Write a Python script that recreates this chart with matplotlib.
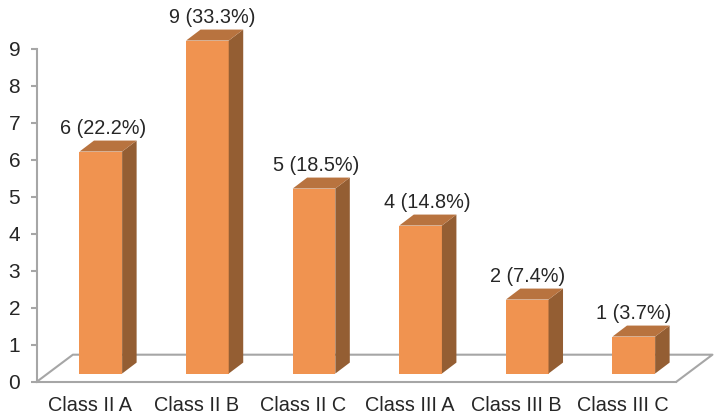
import matplotlib
matplotlib.use('Agg')
import matplotlib.pyplot as plt

categorias = ['Class II A', 'Class II B', 'Class II C', 'Class III A', 'Class III B', 'Class III C']
valores = [6, 9, 5, 4, 2, 1]
rotulos = ['6 (22.2%)', '9 (33.3%)', '5 (18.5%)', '4 (14.8%)', '2 (7.4%)', '1 (3.7%)']
yticks = [0, 1, 2, 3, 4, 5, 6, 7, 8, 9]

plt.rcParams['font.family'] = ['Liberation Sans', 'DejaVu Sans']

cinza = '#a6a6a6'
cor_frente = '#f09350'
cor_lado = '#945e33'
cor_topo = '#b8733f'
cor_texto = '#262626'

# escala: uma categoria = 106.6 px, uma unidade = 37 px
fig = plt.figure(figsize=(7.17, 4.19), dpi=100)
ax = fig.add_axes([0, 0, 1, 1])
ax.set_xlim(-100.8 / 106.6, (717 - 100.8) / 106.6)
ax.set_ylim(-37.3 / 37, 381.7 / 37)

# chao em perspectiva
x_esq = -0.6
x_dir = 5.4
chao_dx = 0.338
chao_dy = 0.73
ax.plot([x_esq, x_esq + chao_dx, x_dir + chao_dx, x_dir],
        [0, chao_dy, chao_dy, 0], color=cinza, lw=1.5, zorder=1)

# barras 3D (frente, lado, topo)
meia = 0.2
base = 0.22
prof_x = 0.136
prof_y = 0.297
desloc_rotulo = [0.02, 0.05, 0.02, 0.065, 0, 0]
for i, v in enumerate(valores):
    topo = base + v
    ax.fill([i - meia, i + meia, i + meia, i - meia],
            [base, base, topo, topo], color=cor_frente, lw=0, zorder=3)
    ax.fill([i + meia, i + meia + prof_x, i + meia + prof_x, i + meia],
            [base, base + prof_y, topo + prof_y, topo], color=cor_lado, lw=0, zorder=3)
    ax.fill([i - meia, i + meia, i + meia + prof_x, i - meia + prof_x],
            [topo, topo, topo + prof_y, topo + prof_y], color=cor_topo, lw=0, zorder=3)
    ax.text(i + desloc_rotulo[i], topo + 0.63, rotulos[i], ha='center', va='center',
            fontsize=14.3, color=cor_texto)

# eixos
for lado in ['top', 'right']:
    ax.spines[lado].set_visible(False)
ax.spines['left'].set_position(('data', x_esq))
ax.spines['left'].set_bounds(0, 9)
ax.spines['bottom'].set_position(('data', 0))
ax.spines['bottom'].set_bounds(x_esq, x_dir)
for lado in ['left', 'bottom']:
    ax.spines[lado].set_color(cinza)
    ax.spines[lado].set_linewidth(1.5)

ax.set_yticks(yticks)
ax.set_xticks([i - 0.1 for i in range(len(categorias))])
ax.set_xticklabels(categorias)
ax.tick_params(axis='y', length=4.5, width=1.5, color=cinza, pad=7.5,
               labelsize=15, labelcolor=cor_texto)
ax.tick_params(axis='x', length=0, pad=10.5, labelsize=14.3, labelcolor=cor_texto)

fig.savefig('out.png', dpi=100)
